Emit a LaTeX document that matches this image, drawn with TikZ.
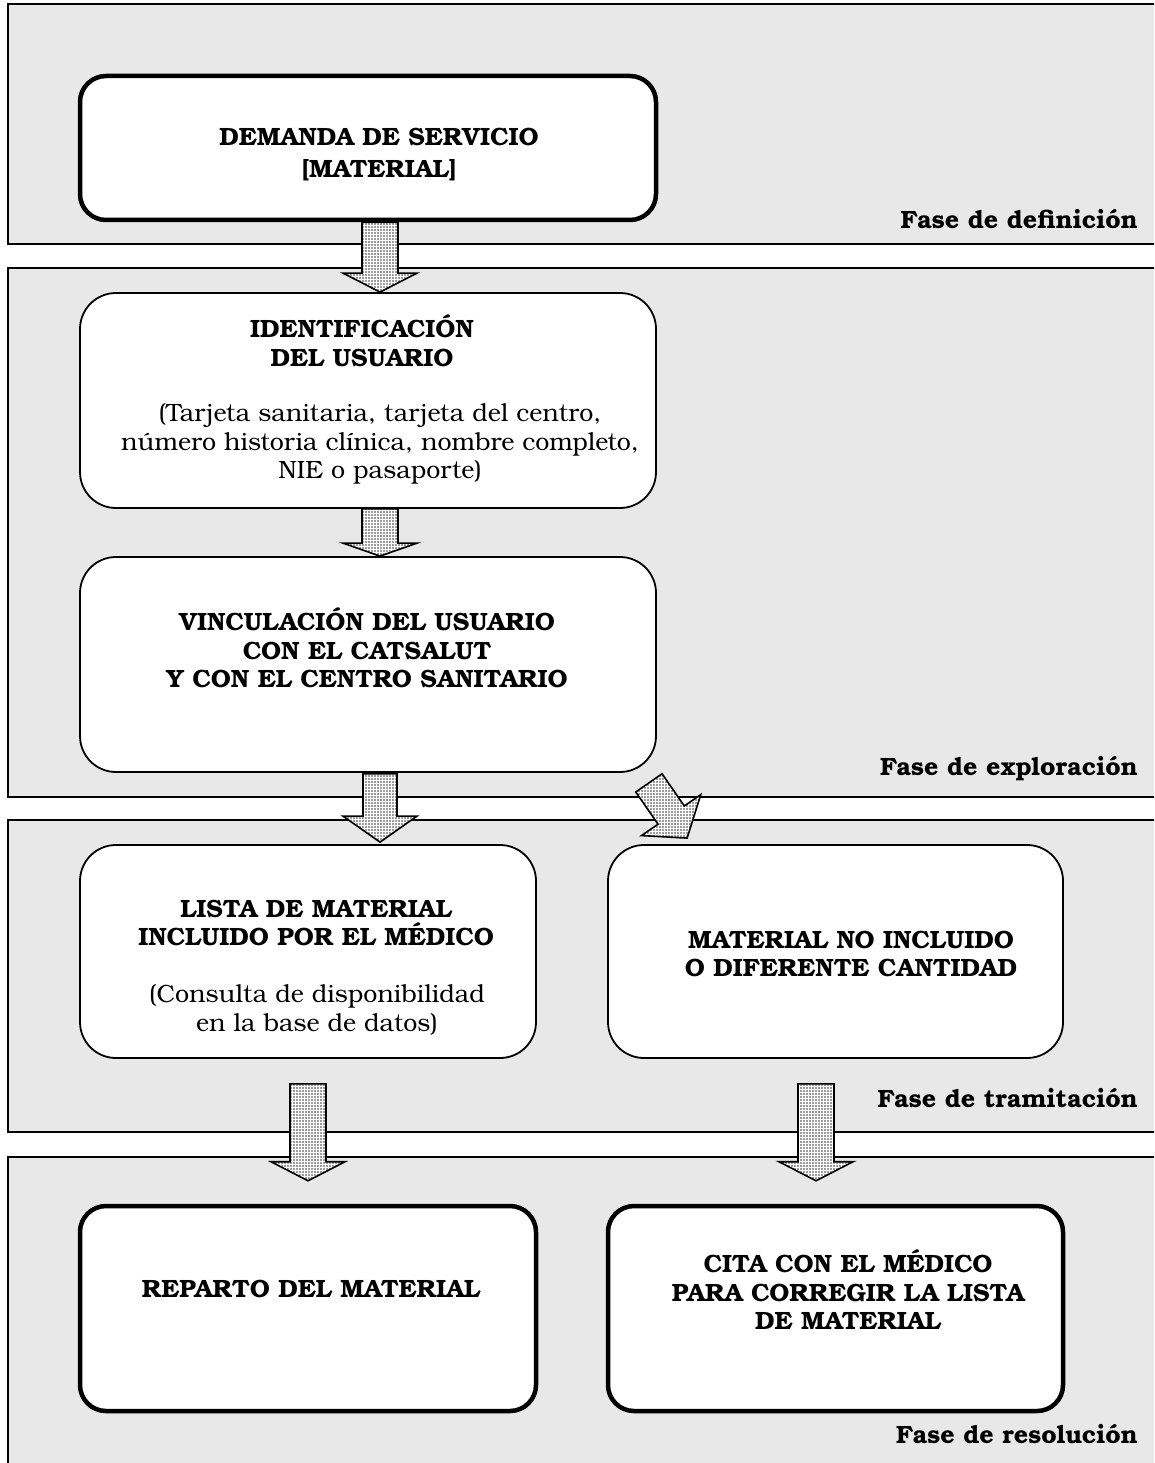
\documentclass[tikz,border=0pt]{standalone}
\usepackage{fontspec}
\setmainfont{texgyrebonum}[Extension=.otf,UprightFont=*-regular,BoldFont=*-bold,ItalicFont=*-italic,BoldItalicFont=*-bolditalic]
\usetikzlibrary{calc,patterns.meta}

% block arrow: #1 tail, #2 tip, #3 shaft half width, #4 head half width, #5 head length
\newcommand\fatarrow[5]{%
  \coordinate (hb) at ($(#2)!#5!(#1)$);
  \path[fat] ($(#1)!#3!90:(#2)$) -- ($(hb)!#3!90:(#2)$) -- ($(hb)!#4!90:(#2)$)
    -- (#2) -- ($(hb)!#4!-90:(#2)$) -- ($(hb)!#3!-90:(#2)$) -- ($(#1)!#3!-90:(#2)$) -- cycle;}

\begin{document}
\begin{tikzpicture}[x=1pt,y=-1pt,
  phase/.style={draw=black,line width=2pt,fill=black!9},
  thinbox/.style={draw=black,line width=1.8pt,fill=white,rounded corners=36pt,inner sep=0pt},
  thickbox/.style={draw=black,line width=4.5pt,fill=white,rounded corners=26pt,inner sep=0pt},
  lbl/.style={font=\fontsize{25}{28.5}\selectfont\bfseries,align=center,inner sep=0pt},
  note/.style={font=\fontsize{25}{28.5}\selectfont,align=center,inner sep=0pt},
  phaselbl/.style={font=\fontsize{25}{28}\selectfont\bfseries,anchor=base east,inner sep=0pt},
  fat/.style={draw=black,line width=1.6pt,line join=miter,preaction={fill=white},
    pattern={Dots[radius=0.8pt,distance=3pt]},pattern color=black!78}]

\clip (0,0) rectangle (1154,1463);

% phase bands
\path[phase] (8,4) rectangle (1170,244);
\path[phase] (8,268) rectangle (1170,797);
\path[phase] (8,820) rectangle (1170,1132);
\path[phase] (8,1157) rectangle (1170,1480);

% boxes
\node[thickbox,minimum width=576pt,minimum height=144pt] (demand) at (368,148) {};
\node[thinbox,minimum width=576pt,minimum height=215pt] (ident) at (368,400.5) {};
\node[thinbox,minimum width=576pt,minimum height=215pt] (vinc) at (368,664.5) {};
\node[thinbox,minimum width=456pt,minimum height=213pt] (lista) at (308,951.5) {};
\node[thinbox,minimum width=455pt,minimum height=213pt] (noinc) at (835.5,951.5) {};
\node[thickbox,minimum width=456pt,minimum height=205pt] (reparto) at (308,1308.5) {};
\node[thickbox,minimum width=455pt,minimum height=205pt] (cita) at (835.5,1308.5) {};

% box texts
\node[lbl,font=\fontsize{25}{32}\selectfont\bfseries] (t1) at (379,155) {DEMANDA DE SERVICIO\\{[MATERIAL]}};
\node[lbl] (t2) at (362,341) {IDENTIFICACIÓN\\DEL USUARIO};
\node[note] (t2n) at (380,444) {(Tarjeta sanitaria, tarjeta del centro,\\número historia clínica, nombre completo,\\NIE o pasaporte)};
\node[lbl] (t3) at (367,648) {VINCULACIÓN DEL USUARIO\\CON EL CATSALUT\\Y CON EL CENTRO SANITARIO};
\node[lbl] (t4) at (316,923) {LISTA DE MATERIAL\\INCLUIDO POR EL MÉDICO};
\node[note] (t4n) at (317,1010) {(Consulta de disponibilidad\\en la base de datos)};
\node[lbl] (t5) at (851,954) {MATERIAL NO INCLUIDO\\O DIFERENTE CANTIDAD};
\node[lbl] (t6) at (311,1289) {REPARTO DEL MATERIAL};
\node[lbl] (t7) at (848,1290) {CITA CON EL MÉDICO\\PARA CORREGIR LA LISTA\\DE MATERIAL};

% phase labels
\node[phaselbl] (p1) at (1138,229) {Fase de definición};
\node[phaselbl] (p2) at (1138,775) {Fase de exploración};
\node[phaselbl] (p3) at (1138,1107) {Fase de tramitación};
\node[phaselbl] (p4) at (1138,1443) {Fase de resolución};

% arrow end points
\coordinate (a1s) at ($(demand.south)+(12,0)$);
\coordinate (a1e) at ($(ident.north)+(12,0)$);
\coordinate (a2s) at ($(ident.south)+(12,0)$);
\coordinate (a2e) at ($(vinc.north)+(12,0)$);
\coordinate (a3s) at ($(vinc.south)+(12,1)$);
\coordinate (a3e) at ($(lista.north)+(72,-2)$);
\coordinate (a4s) at ($(vinc.south east)+(-8,10)$);
\coordinate (a4e) at ($(noinc.north west)+(80,-6)$);
\coordinate (a5s) at ($(lista.south)+(0,25)$);
\coordinate (a5e) at ($(reparto.north)+(0,-23)$);
\coordinate (a6s) at ($(noinc.south)+(-19.5,25)$);
\coordinate (a6e) at ($(cita.north)+(-19.5,-23)$);

% arrows
\fatarrow{a1s}{a1e}{18pt}{37pt}{19pt}
\fatarrow{a2s}{a2e}{18pt}{37pt}{13pt}
\fatarrow{a3s}{a3e}{17pt}{37pt}{26pt}
\fatarrow{a4s}{a4e}{16pt}{36pt}{28pt}
\fatarrow{a5s}{a5e}{18pt}{37pt}{19pt}
\fatarrow{a6s}{a6e}{18pt}{37pt}{19pt}

\end{tikzpicture}
\end{document}
